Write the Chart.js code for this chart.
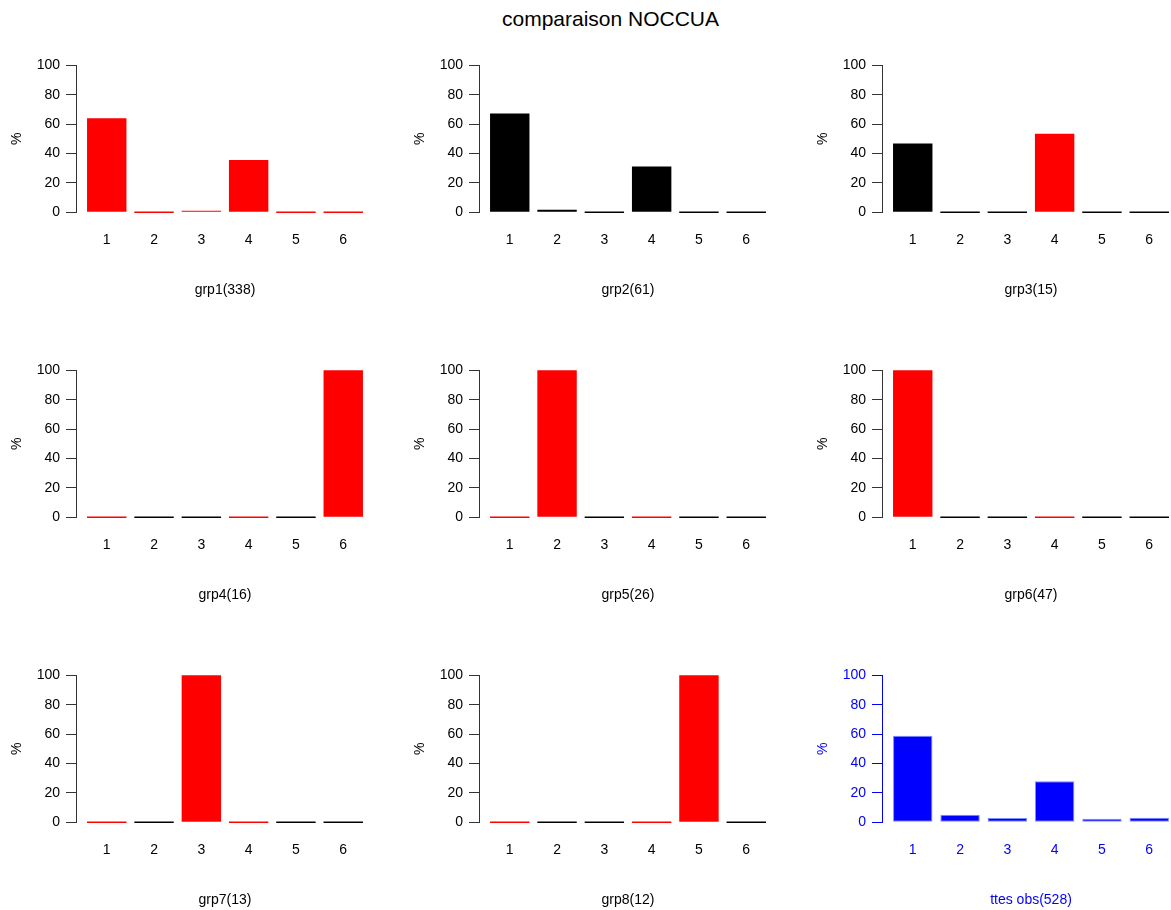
<!DOCTYPE html>
<html>
<head>
<meta charset="utf-8">
<script src="https://cdn.jsdelivr.net/npm/chart.js@4.4.1/dist/chart.umd.min.js"></script>
<style>
  html, body { margin: 0; padding: 0; background: #fff; overflow: hidden; width: 1171px; height: 910px; }
  #title { position: absolute; left: 0; top: 7px; width: 1221px; text-align: center;
           font: 21px "Liberation Sans", Arial, sans-serif; line-height: 24px; color: #000; }
  .panel { position: absolute; width: 372px; height: 255px; }
</style>
</head>
<body>
<div id="title">comparaison NOCCUA</div>
<div id="grid"></div>
<script>
// Category labels and y tick values shared by every panel
const categories = ['1', '2', '3', '4', '5', '6'];
const yTicks = [0, 20, 40, 60, 80, 100];

// Percentage of each group falling in each category
const grp1 = [63.9, 0, 0.6, 35.5, 0, 0];
const grp2 = [67.2, 1.6, 0, 31.1, 0, 0];
const grp3 = [46.7, 0, 0, 53.3, 0, 0];
const grp4 = [0, 0, 0, 0, 0, 100];
const grp5 = [0, 100, 0, 0, 0, 0];
const grp6 = [100, 0, 0, 0, 0, 0];
const grp7 = [0, 0, 100, 0, 0, 0];
const grp8 = [0, 0, 0, 0, 100, 0];
const allObs = [58.9, 5.1, 2.8, 27.8, 2.3, 3.0];

const groupLabels = ['grp1(338)', 'grp2(61)', 'grp3(15)', 'grp4(16)', 'grp5(26)',
                     'grp6(47)', 'grp7(13)', 'grp8(12)', 'ttes obs(528)'];

// Bar colours per panel
const R = '#ff0000', K = '#000000';
const grp1Colors = [R, R, R, R, R, R];
const grp2Colors = [K, K, K, K, K, K];
const grp3Colors = [K, K, K, R, K, K];
const grp4Colors = [R, K, K, R, K, R];
const grp5Colors = [R, R, K, R, K, K];
const grp6Colors = [R, K, K, R, K, K];
const grp7Colors = [R, K, R, R, K, K];
const grp8Colors = [R, K, K, R, R, K];

const BLUE = '#0000ff';
const allColors = categories.map(() => BLUE);

const panels = [
  { values: grp1, colors: grp1Colors },
  { values: grp2, colors: grp2Colors },
  { values: grp3, colors: grp3Colors },
  { values: grp4, colors: grp4Colors },
  { values: grp5, colors: grp5Colors },
  { values: grp6, colors: grp6Colors },
  { values: grp7, colors: grp7Colors },
  { values: grp8, colors: grp8Colors },
  { values: allObs, colors: allColors, blue: true }
];

// Panel placement (container top-left corners)
const colLeft = [6, 409, 812];
const rowTop = [45, 350, 655];

const FONT = { family: '"Liberation Sans", Arial, sans-serif', size: 14 };

// Vertical axis line spanning only the tick range, like a classic axis()
const axisLine = {
  id: 'axisLine',
  afterDraw(chart, args, opts) {
    const ys = chart.scales.y;
    const ctx = chart.ctx;
    const x = Math.round(chart.chartArea.left) + 0.5;
    const y0 = Math.round(ys.getPixelForValue(yTicks[0])) + 1;
    const y1 = Math.round(ys.getPixelForValue(yTicks[yTicks.length - 1]));
    ctx.save();
    ctx.strokeStyle = opts.color;
    ctx.lineWidth = 1;
    ctx.beginPath();
    ctx.moveTo(x, y0);
    ctx.lineTo(x, y1);
    ctx.stroke();
    ctx.restore();
  }
};

const gridEl = document.getElementById('grid');

panels.forEach((p, idx) => {
  const div = document.createElement('div');
  div.className = 'panel';
  div.style.left = colLeft[idx % 3] + 'px';
  div.style.top = rowTop[Math.floor(idx / 3)] + 'px';
  const canvas = document.createElement('canvas');
  canvas.width = 372;
  canvas.height = 255;
  div.appendChild(canvas);
  gridEl.appendChild(div);

  const textColor = p.blue ? BLUE : '#000000';
  const lineColor = p.blue ? BLUE : '#333333';

  new Chart(canvas, {
    type: 'bar',
    data: {
      datasets: [{
        data: p.values.map((v, i) => ({ x: Number(categories[i]), y: v })),
        backgroundColor: p.colors,
        borderColor: p.blue ? '#7890ff' : p.colors,
        borderWidth: p.blue ? 1 : 0,
        borderSkipped: false,
        minBarLength: 1.5,
        barPercentage: 1 / 1.2,
        categoryPercentage: 1
      }]
    },
    options: {
      responsive: false,
      animation: false,
      devicePixelRatio: 1,
      layout: { padding: { top: 0, right: 4, left: 0, bottom: 0 } },
      plugins: {
        legend: { display: false },
        tooltip: { enabled: false },
        axisLine: { color: lineColor }
      },
      scales: {
        x: {
          type: 'linear',
          offset: false,
          min: 0.35,
          max: 6.65,
          afterBuildTicks: s => { s.ticks = categories.map(c => ({ value: Number(c) })); },
          afterFit: s => { s.height = 82; },
          grid: { display: false, drawTicks: false },
          border: { display: false },
          ticks: {
            padding: 14, color: textColor, font: FONT, autoSkip: false, maxRotation: 0,
            callback: (v, i) => categories[i]
          },
          title: { display: true, text: groupLabels[idx], color: textColor, font: FONT,
                   padding: { top: 0, bottom: 1 } }
        },
        y: {
          min: -4,
          max: 104,
          afterBuildTicks: s => { s.ticks = yTicks.map(v => ({ value: v })); },
          afterFit: s => { s.width = 70; },
          grid: { drawOnChartArea: false, drawTicks: true, tickLength: 10, color: lineColor, lineWidth: 1 },
          border: { display: false },
          ticks: { padding: 6, color: textColor, font: FONT },
          title: { display: true, text: '%', color: textColor, font: FONT,
                   padding: { top: 3, bottom: 0 } }
        }
      }
    },
    plugins: [axisLine]
  });
});
</script>
</body>
</html>
